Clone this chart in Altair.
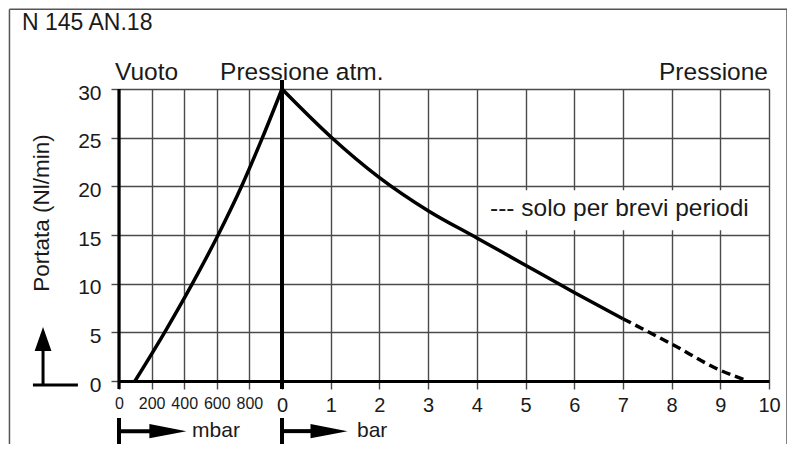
import altair as alt
import pandas as pd

# ---------------- data ----------------
VAC_MBAR = [98, 280, 450, 608, 752, 880, 1000]          # absolute pressure (mbar), vacuum side
VAC_FLOW = [0, 5, 10, 15, 20, 25, 30]                   # Nl/min
PRESS_BAR = [0, 1, 2, 3, 4, 5, 6, 7]                    # relative pressure (bar)
PRESS_FLOW = [30, 25.1, 20.9, 17.5, 14.7, 11.9, 9.1, 6.4]
SHORT_BAR = [7, 8, 9, 9.57]                             # "solo per brevi periodi" (dashed)
SHORT_FLOW = [6.4, 3.8, 1.1, 0]

X_TICKS_MBAR = [0, 200, 400, 600, 800]
X_TICKS_BAR = [0, 1, 2, 3, 4, 5, 6, 7, 8, 9, 10]
Y_TICKS = [0, 5, 10, 15, 20, 25, 30]

TITLE = "N 145 AN.18"
LBL_VAC = "Vuoto"
LBL_ATM = "Pressione atm."
LBL_PRESS = "Pressione"
LBL_SHORT = "--- solo per brevi periodi"
Y_TITLE = "Portata (Nl/min)"
UNIT_VAC = "mbar"
UNIT_PRESS = "bar"

# ---------------- build tables ----------------
# common x coordinate: vacuum expressed as relative bar (-1 .. 0), pressure 0 .. 10 bar
vac = pd.DataFrame({"x": [(m - 1000) / 1000 for m in VAC_MBAR], "flow": VAC_FLOW})
press = pd.DataFrame({"x": PRESS_BAR, "flow": PRESS_FLOW})
short = pd.DataFrame({"x": SHORT_BAR, "flow": SHORT_FLOW})

x_values = [(m - 1000) / 1000 for m in X_TICKS_MBAR] + X_TICKS_BAR

FONT = "Liberation Sans, Arial, Helvetica, sans-serif"
INK = "#1a1a1a"
GRID = "#4a4a4a"

xscale = alt.Scale(domain=[-1, 0, 10], range=[0, 163, 650], nice=False, zero=False)
yscale = alt.Scale(domain=[0, 30], nice=False, zero=True)

xaxis = alt.Axis(
    values=x_values,
    labelExpr="datum.value < 0 ? format((datum.value + 1) * 1000, 'd') : format(datum.value, 'd')",
    labelFont=FONT,
    labelFontSize={"condition": {"test": "datum.value < 0", "value": 16}, "value": 20},
    labelColor=INK, labelPadding=6, labelOverlap=False, labelFlush=False,
    tickSize=8, tickColor=GRID, tickWidth=1.4,
    domain=True, domainColor="black", domainWidth=3,
    grid=True, gridColor=GRID, gridWidth=1.4, gridOpacity=1,
    title=None,
)
yaxis = alt.Axis(
    values=Y_TICKS,
    labelFont=FONT, labelFontSize=21, labelColor=INK, labelPadding=10,
    labelBaseline="middle", labelOffset=4,
    tickSize=8, tickColor=GRID, tickWidth=1.4,
    domain=False,
    grid=True, gridColor=GRID, gridWidth=1.4, gridOpacity=1,
    title=None,
)


def X(field="x"):
    return alt.X(field, type="quantitative", scale=xscale, axis=xaxis)


def Y(field="y"):
    return alt.Y(field, type="quantitative", scale=yscale, axis=yaxis)


def text(label, x, y, size=24, align="left", baseline="alphabetic", angle=0):
    df = pd.DataFrame({"x": [x], "y": [y]})
    return alt.Chart(df).mark_text(
        text=label, align=align, baseline=baseline, fontSize=size, font=FONT,
        color=INK, angle=angle,
    ).encode(x=X(), y=Y())


def rule(x, y, x2, y2, width=3, color="black"):
    df = pd.DataFrame({"x": [x], "y": [y], "x2": [x2], "y2": [y2]})
    return alt.Chart(df).mark_rule(color=color, strokeWidth=width).encode(
        x=X(), y=Y(), x2="x2", y2="y2")


def head(x, y, path, size):
    df = pd.DataFrame({"x": [x], "y": [y]})
    return alt.Chart(df).mark_point(
        shape=path, size=size, filled=True, color="black", opacity=1, strokeWidth=0
    ).encode(x=X(), y=Y())


def curve(df, dash=None):
    kw = dict(color="black", strokeWidth=3.5, strokeJoin="round", interpolate="monotone")
    if dash:
        kw["strokeDash"] = dash
    return alt.Chart(df).mark_line(**kw).encode(x=X(), y=Y("flow"), order="x:Q")


RIGHT_HEAD = "M -1 -0.38 L 1 0 L -1 0.38 Z"
UP_HEAD = "M 0 -1 L 0.7 1 L -0.7 1 Z"

# white box behind the note
box_df = pd.DataFrame({"x": [4.11], "x2": [9.71], "y": [15.5], "y2": [19.6]})
box = alt.Chart(box_df).mark_rect(color="white").encode(x=X(), x2="x2", y=Y(), y2="y2")

UNIT_Y = -5.15

layers = [
    box,
    # thick reference verticals (vacuum 0 and atmospheric pressure)
    rule(-1, -0.82, -1, 30, width=3.2),
    rule(0, -0.82, 0, 30.93, width=4),
    curve(vac),
    curve(press),
    curve(short, dash=[9, 5]),
    # frame
    rule(-1.672, 38.2, 10.37, 38.2, width=1.5, color="#555"),
    rule(-1.672, 38.2, -1.672, -7.4, width=1.5, color="#555"),
    rule(10.37, 38.2, 10.37, -7.4, width=1.5, color="#555"),
    # texts
    text(TITLE, -1.595, 36.06, size=23),
    text(LBL_VAC, -1.0245, 30.93, size=24.5),
    text(LBL_ATM, -0.38, 30.93, size=24.5),
    text(LBL_PRESS, 9.979, 30.93, size=24.5, align="right"),
    text(LBL_SHORT, 4.271, 16.95, size=24.5),
    text(Y_TITLE, -1.472, 17.26, size=22.5, align="center", baseline="middle", angle=270),
    # y-direction arrow
    rule(-1.466, -0.41, -1.466, 4.5, width=3),
    rule(-1.528, -0.41, -1.252, -0.41, width=3),
    head(-1.466, 4.32, UP_HEAD, 576),
    # mbar arrow
    rule(-1, -3.8, -1, -7.3, width=4),
    rule(-1, UNIT_Y, -0.78, UNIT_Y, width=4),
    head(-0.70, UNIT_Y, RIGHT_HEAD, 1369),
    text(UNIT_VAC, -0.552, UNIT_Y, size=21, baseline="middle"),
    # bar arrow
    rule(0, -3.8, 0, -7.3, width=4),
    rule(0, UNIT_Y, 0.62, UNIT_Y, width=4),
    head(0.965, UNIT_Y, RIGHT_HEAD, 1369),
    text(UNIT_PRESS, 1.54, UNIT_Y, size=21, baseline="middle"),
]

chart = alt.layer(*layers).properties(
    width=650, height=292,
    padding={"left": 111, "top": 81, "right": 18, "bottom": 63},
    autosize=alt.AutoSizeParams(type="none"),
    background="white",
).configure_view(strokeWidth=0)

chart.save("out.html", embed_options={"renderer": "svg", "actions": False})
